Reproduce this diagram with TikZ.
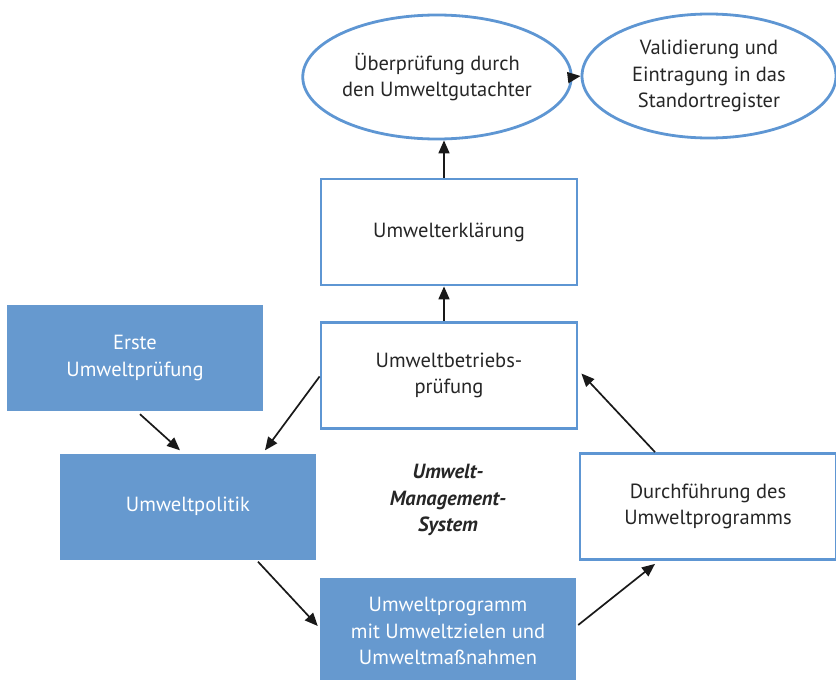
\documentclass[tikz,border=0pt]{standalone}
\usepackage{fontspec}
\setmainfont{PT Sans}
\usetikzlibrary{arrows.meta,shapes.geometric,calc}
\definecolor{bfill}{HTML}{6699CF}
\definecolor{bline}{HTML}{5E96D3}
\tikzset{
  box/.style={rectangle, minimum width=256pt, minimum height=106pt, align=center, font=\fontsize{20.5}{26.5}\selectfont, inner sep=0pt},
  openbox/.style={box, draw=bline, line width=2.8pt, fill=white, text=black!85},
  fullbox/.style={box, fill=bfill, text=white},
  oval/.style={ellipse, draw=bline, line width=2.8pt, minimum width=254pt, minimum height=124pt, align=center, font=\fontsize{20.5}{26.5}\selectfont, inner sep=0pt, text=black!85},
  arr/.style={-{Triangle[length=13pt,width=11pt]}, line width=1.7pt, black!90}
}
\begin{document}
\begin{tikzpicture}[x=1pt,y=-1pt]
\useasboundingbox (0,0) rectangle (836,680);
\node[oval] (pruef) at (437,77) {Überprüfung durch\\den Umweltgutachter};
\node[oval] (valid) at (709,76) {Validierung und\\Eintragung in das\\Standortregister};
\node[openbox] (erkl) at (449,232) {Umwelterklärung};
\node[openbox] (betr) at (449,375.5) {Umweltbetriebs-\\prüfung};
\node[fullbox] (erste) at (135,358) {Erste\\Umweltprüfung};
\node[fullbox] (pol) at (188,506.5) {Umweltpolitik};
\node[openbox] (durch) at (708,506.5) {Durchführung des\\Umweltprogramms};
\node[fullbox] (prog) at (448,631) {Umweltprogramm\\mit Umweltzielen und\\Umweltmaßnahmen};
\node[align=center, font=\fontsize{20.5}{26.5}\selectfont\bfseries\itshape, text=black!85] (ums) at (448,500) {Umwelt-\\Management-\\System};
\draw[arr] (pruef.east) -- (valid.west);
\draw[arr] ([xshift=-5pt]erkl.north) -- ([xshift=-5pt]erkl.north |- pruef.south);
\draw[arr] ([xshift=-5pt]betr.north) -- ([xshift=-5pt]erkl.south);
\draw[arr] ([xshift=5pt,yshift=-3pt]erste.south) -- ([xshift=-8pt,yshift=3pt]pol.north);
\draw[arr] ([yshift=-1pt]betr.west) -- ([xshift=77pt,yshift=3pt]pol.north);
\draw[arr] ([xshift=70pt,yshift=-2pt]pol.south) -- ([yshift=5pt,xshift=-2pt]prog.west);
\draw[arr] ([yshift=6pt,xshift=2pt]prog.east) -- ([xshift=-53pt,yshift=-3pt]durch.south);
\draw[arr] ([xshift=-53pt]durch.north) -- ([xshift=3pt,yshift=2pt]betr.east);
\end{tikzpicture}
\end{document}
